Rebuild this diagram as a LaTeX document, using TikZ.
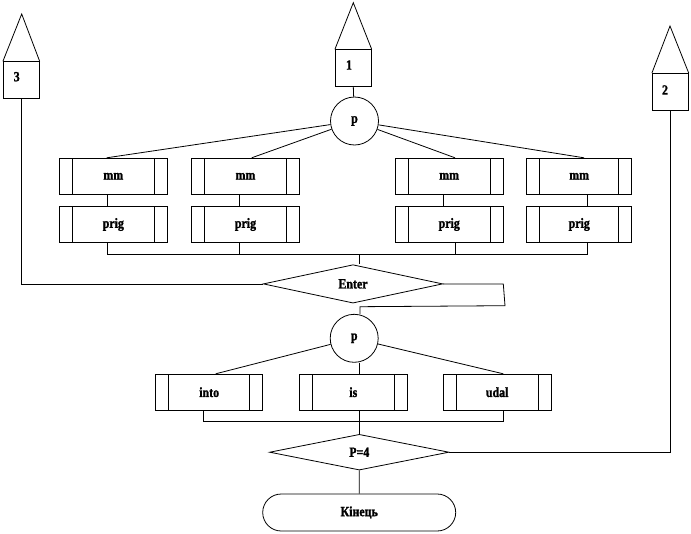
\documentclass[tikz,border=0pt]{standalone}
\usepackage{fontspec}
\setmainfont{Liberation Serif}
\newfontfamily\lbl[FakeStretch=0.85,BoldFeatures={FakeBold=1.5}]{Liberation Serif}
\usetikzlibrary{shapes.geometric,calc}
\begin{document}
\begin{tikzpicture}[x=1pt,y=-1pt,line width=0.8pt,
  font=\lbl\bfseries\fontsize{14}{16}\selectfont,
  sub/.style={draw,rectangle,minimum width=108pt,minimum height=36pt,inner sep=0pt,
    path picture={
      \draw ([xshift=13pt]path picture bounding box.north west) -- ([xshift=13pt]path picture bounding box.south west);
      \draw ([xshift=-13pt]path picture bounding box.north east) -- ([xshift=-13pt]path picture bounding box.south east);}},
  conn/.style={draw,circle,minimum size=48pt,inner sep=0pt},
  dec/.style={draw,diamond,minimum width=179.4pt,minimum height=35.7pt,inner sep=0pt},
  term/.style={draw,rectangle,rounded corners=18.5pt,minimum width=193pt,minimum height=37pt,inner sep=0pt},
  pagebox/.style={draw,rectangle,minimum width=36pt,minimum height=36.5pt,inner sep=0pt},
  lbltext/.style={inner sep=0pt}]
\useasboundingbox (0,0) rectangle (691,533);

% off-page connectors
\node[pagebox] (c3) at (21.3,80) {};
\coordinate (a3) at (21.7,14);
\draw (c3.north west) -- (a3) -- (c3.north east);
\node[lbltext] (t3) at (16.7,76.7) {3};

\node[pagebox] (c1) at (353.3,68) {};
\coordinate (a1) at (353.3,2.7);
\draw (c1.north west) -- (a1) -- (c1.north east);
\node[lbltext] (t1) at (349,65) {1};

\node[pagebox] (c2) at (670.3,91.7) {};
\coordinate (a2) at (670,26);
\draw (c2.north west) -- (a2) -- (c2.north east);
\node[lbltext] (t2) at (665,90) {2};

% first circle
\node[conn] (p1) at (354.5,121) {p};
\draw (c1.south) -- (p1);

% top row
\node[sub] (mm1) at (113.3,176.2) {mm};
\node[sub] (mm2) at (245.5,176.2) {mm};
\node[sub] (mm3) at (449.2,176.2) {mm};
\node[sub,minimum width=105pt] (mm4) at (579.2,176.2) {mm};
\node[sub] (pr1) at (113.3,224.5) {prig};
\node[sub] (pr2) at (245.5,224.5) {prig};
\node[sub] (pr3) at (449.2,224.5) {prig};
\node[sub,minimum width=105pt] (pr4) at (579.2,224.5) {prig};

\draw (p1) -- ([xshift=-6.6pt]mm1.north);
\draw (p1) -- ([xshift=6.2pt]mm2.north);
\draw (p1) -- ([xshift=5.8pt]mm3.north);
\draw (p1) -- ([xshift=4.8pt]mm4.north);

\draw ([xshift=-5.6pt]mm1.south) -- ([xshift=-5.6pt]pr1.north);
\draw ([xshift=-6.2pt]mm2.south) -- ([xshift=-6.2pt]pr2.north);
\draw ([xshift=-5.9pt]mm3.south) -- ([xshift=-5.9pt]pr3.north);
\draw ([xshift=8.5pt]mm4.south) -- ([xshift=8.5pt]pr4.north);

\coordinate (b1) at (107.7,254.3);
\coordinate (b4) at (587.7,254.3);
\coordinate (bc) at (359.3,254.3);
\draw ([xshift=-5.6pt]pr1.south) -- (b1) -- (b4) -- ([xshift=8.5pt]pr4.south);
\draw ([xshift=-6.2pt]pr2.south) -- ([xshift=-6.2pt]pr2.south |- b1);
\draw ([xshift=6.5pt]pr3.south) -- ([xshift=6.5pt]pr3.south |- b1);

% Enter decision
\node[dec] (en) at (353,283.9) {Enter};
\draw (bc) -- (bc |- en.north);
\draw (en.west) -- (en.west -| c3.south) -- (c3.south);
\coordinate (r1) at (503.3,284);
\coordinate (r2) at (505,305.7);
\coordinate (r3) at (360,306.7);

% second circle
\node[conn] (p2) at (354.2,338.3) {p};
\draw (en.east) -- (r1) -- (r2) -- (r3) -- (r3 |- p2.north);

% lower row
\node[sub,minimum width=107pt] (in) at (209.2,392.2) {into};
\node[sub] (is) at (353.3,392.2) {is};
\node[sub,minimum width=107.7pt] (ud) at (497.2,392.2) {udal};
\draw (p2) -- ([xshift=6.5pt]in.north);
\draw ([xshift=6pt]is.north) -- ([xshift=6pt]is.north |- p2.south);
\draw (p2) -- ([xshift=6.1pt]ud.north);

\coordinate (l1) at (203.3,421.7);
\coordinate (l3) at (503.3,421.7);
\coordinate (lc) at (359.3,421.7);
\draw ([xshift=-5.9pt]in.south) -- (l1) -- (l3) -- ([xshift=6.1pt]ud.south);
\draw ([xshift=6pt]is.south) -- (lc);

% P=4 decision
\node[dec] (pq) at (359.3,452.2) {P=4};
\draw (lc) -- (pq.north);
\draw (pq.east) -- (pq.east -| c2.south) -- (c2.south);

% end
\node[term] (end) at (359.2,512.5) {Кінець};
\draw (pq.south) -- (end.north);
\end{tikzpicture}
\end{document}
